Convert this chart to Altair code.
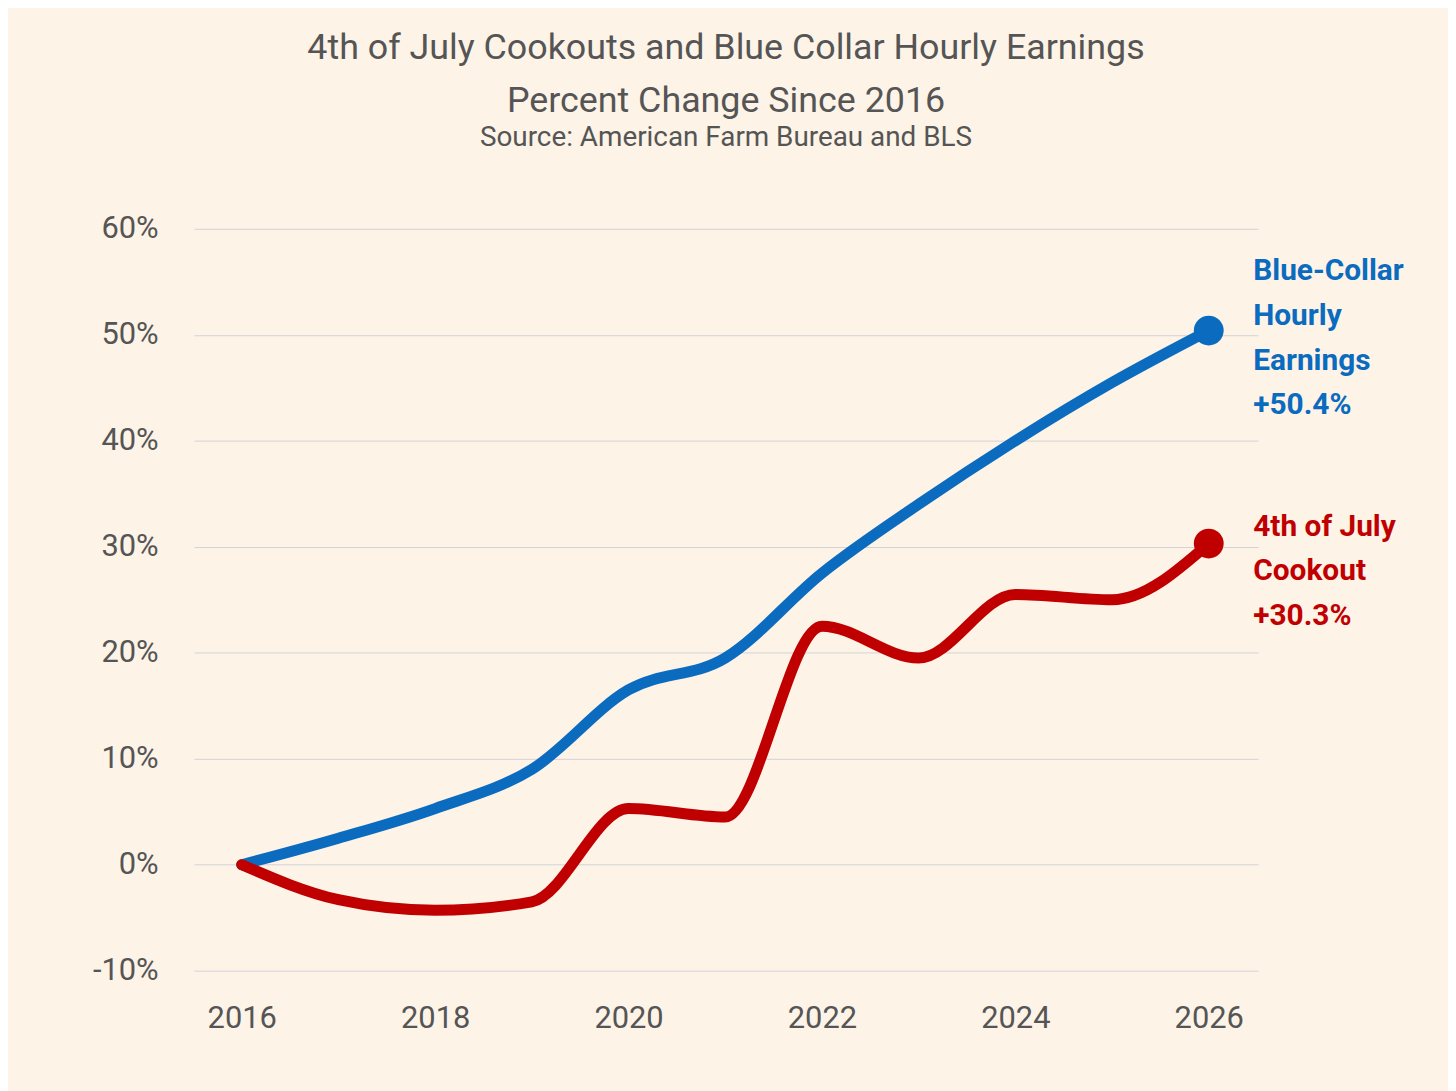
import altair as alt
import pandas as pd

years = list(range(2016, 2027))
blue = [0, 2.5, 5.3, 9.0, 16.5, 19.5, 27.5, 34.0, 40.0, 45.5, 50.4]
red = [0, -3.3, -4.3, -3.5, 5.3, 4.5, 22.5, 19.5, 25.5, 25.0, 30.3]

df = pd.DataFrame({
    "year": years * 2,
    "pct": blue + red,
    "series": ["Blue"] * len(years) + ["Red"] * len(years),
})
ends = df[df.year == 2026]
labels = pd.DataFrame({
    "year": [2026.46, 2026.46],
    "pct": [57.4, 33.3],
    "txt": ["Blue-Collar\nHourly\nEarnings\n+50.4%", "4th of July\nCookout\n+30.3%"],
    "series": ["Blue", "Red"],
})

FONT = "Liberation Sans Narrow, Roboto, sans-serif"
color = alt.Color("series:N", scale=alt.Scale(domain=["Blue", "Red"], range=["#0a6bbf", "#c00000"]), legend=None)
x = alt.X("year:Q", scale=alt.Scale(domain=[2015.506, 2026.51], nice=False),
          axis=alt.Axis(values=list(range(2016, 2027, 2)), format="d", title=None, grid=False,
                        domain=False, ticks=False, labelPadding=33))
y = alt.Y("pct:Q", scale=alt.Scale(domain=[-10, 60], nice=False),
          axis=alt.Axis(values=list(range(-10, 61, 10)), labelExpr="datum.value + '%'", title=None,
                        domain=False, ticks=False, labelPadding=36, gridColor="#d3d3d8"))

base = alt.Chart(df)
lines = base.mark_line(strokeWidth=11, interpolate="monotone", strokeCap="round").encode(x=x, y=y, color=color)
dots = alt.Chart(ends).mark_circle(size=900, opacity=1).encode(x=x, y=y, color=color)
text = alt.Chart(labels).mark_text(align="left", baseline="top", fontSize=30, fontWeight="bold",
                                  font=FONT, lineHeight=45, lineBreak="\n", clip=False).encode(
    x=x, y=y, color=color, text="txt:N")

chart = alt.layer(lines, dots, text).properties(
    width=1070, height=746,
    autosize=alt.AutoSizeParams(type="none"),
    padding={"left": 187, "top": 219, "right": 191, "bottom": 126},
    background="#fdf3e7",
    title=alt.TitleParams(
        text=["4th of July Cookouts and Blue Collar Hourly Earnings", "Percent Change Since 2016"],
        subtitle="Source: American Farm Bureau and BLS",
        fontSize=36, subtitleFontSize=28, font=FONT, subtitleFont=FONT,
        color="#555555", subtitleColor="#555555", fontWeight="normal",
        anchor="middle", lineHeight=54, offset=60, subtitlePadding=4,
    ),
).configure_view(stroke=None).configure_axis(
    labelFont=FONT, labelFontSize=31, labelColor="#555555"
)

chart.save("out.html", embed_options={"renderer": "svg", "actions": False})
